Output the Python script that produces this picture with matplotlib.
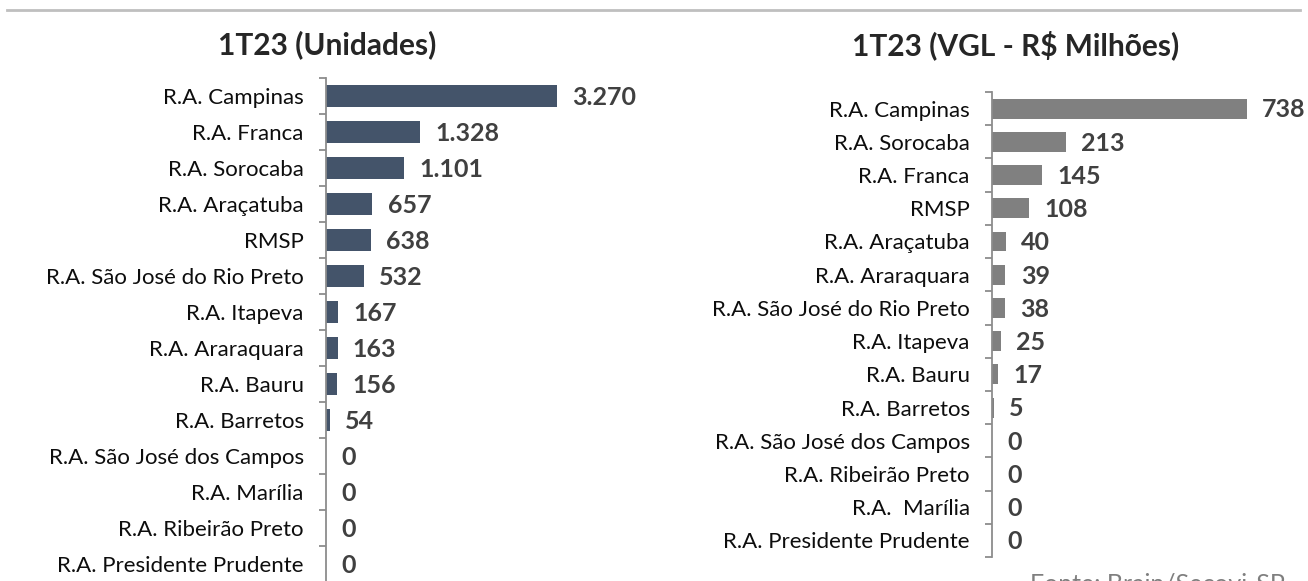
import matplotlib
matplotlib.use("Agg")
import matplotlib.pyplot as plt
from matplotlib.lines import Line2D
import numpy as np

plt.rcParams['font.family'] = ['Lato', 'DejaVu Sans']

# ---- data ----
units_title = "1T23 (Unidades)"
units_cats = ["R.A. Campinas", "R.A. Franca", "R.A. Sorocaba", "R.A. Araçatuba", "RMSP",
              "R.A. São José do Rio Preto", "R.A. Itapeva", "R.A. Araraquara", "R.A. Bauru",
              "R.A. Barretos", "R.A. São José dos Campos", "R.A. Marília",
              "R.A. Ribeirão Preto", "R.A. Presidente Prudente"]
units_vals = [3270, 1328, 1101, 657, 638, 532, 167, 163, 156, 54, 0, 0, 0, 0]
units_labels = ["3.270", "1.328", "1.101", "657", "638", "532", "167", "163", "156", "54",
                "0", "0", "0", "0"]

vgl_title = "1T23 (VGL - R$ Milhões)"
vgl_cats = ["R.A. Campinas", "R.A. Sorocaba", "R.A. Franca", "RMSP", "R.A. Araçatuba",
            "R.A. Araraquara", "R.A. São José do Rio Preto", "R.A. Itapeva", "R.A. Bauru",
            "R.A. Barretos", "R.A. São José dos Campos", "R.A. Ribeirão Preto",
            "R.A.  Marília", "R.A. Presidente Prudente"]
vgl_vals = [738, 213, 145, 108, 40, 39, 38, 25, 17, 5, 0, 0, 0, 0]
vgl_labels = [str(v) for v in vgl_vals]

source = "Fonte: Brain/Secovi-SP"

W, H = 1308, 581
fig = plt.figure(figsize=(W / 100, H / 100), dpi=100)

def px_rect(x0, y0, x1, y1):
    return [x0 / W, 1 - y1 / H, (x1 - x0) / W, (y1 - y0) / H]

LABEL_COL = "#0d0d0d"
VAL_COL = "#404040"
SPINE_COL = "#8c8c8c"

def draw(ax, cats, vals, labels, color, xmax):
    n = len(cats)
    y = np.arange(n)
    ax.barh(y, vals, height=0.6, color=color, zorder=2)
    ax.set_ylim(n - 0.5, -0.5)
    ax.set_xlim(0, xmax)
    for s in ["top", "right", "bottom"]:
        ax.spines[s].set_visible(False)
    ax.spines["left"].set_color(SPINE_COL)
    ax.spines["left"].set_linewidth(1.3)
    ax.set_xticks([])
    ax.set_yticks(y)
    ax.set_yticklabels(cats, fontsize=16, color=LABEL_COL)
    ax.tick_params(axis="y", which="major", length=0, pad=16)
    ax.set_yticks(np.arange(n + 1) - 0.5, minor=True)
    ax.tick_params(axis="y", which="minor", length=5, width=1.3, color=SPINE_COL)
    ax.patch.set_alpha(0)
    for yi, v, lab in zip(y, vals, labels):
        ax.annotate(lab, xy=(v, yi), xytext=(11, -1), textcoords="offset points",
                    ha="left", va="center", fontsize=18, fontweight="bold", color=VAL_COL)

ax1 = fig.add_axes(px_rect(326, 78, 626, 582))
draw(ax1, units_cats, units_vals, units_labels, "#44546A", 3270 * 300 / 231)

ax2 = fig.add_axes(px_rect(992, 92, 1292, 557))
draw(ax2, vgl_cats, vgl_vals, vgl_labels, "#808080", 738 * 300 / 255)

fig.text(327 / W, 1 - 45 / H, units_title, ha="center", va="center",
         fontsize=21.5, fontweight="bold", color="#262626")
fig.text(1016 / W, 1 - 45 / H, vgl_title, ha="center", va="center",
         fontsize=21.5, fontweight="bold", color="#262626")

fig.add_artist(Line2D([7 / W, 1300 / W], [1 - 10 / H, 1 - 10 / H],
                      color="#bfbfbf", linewidth=2, transform=fig.transFigure))

fig.text(1030 / W, 1 - 573 / H, source, ha="left", va="top",
         fontsize=18, color="#7f7f7f")

fig.savefig("out.png", dpi=100)
